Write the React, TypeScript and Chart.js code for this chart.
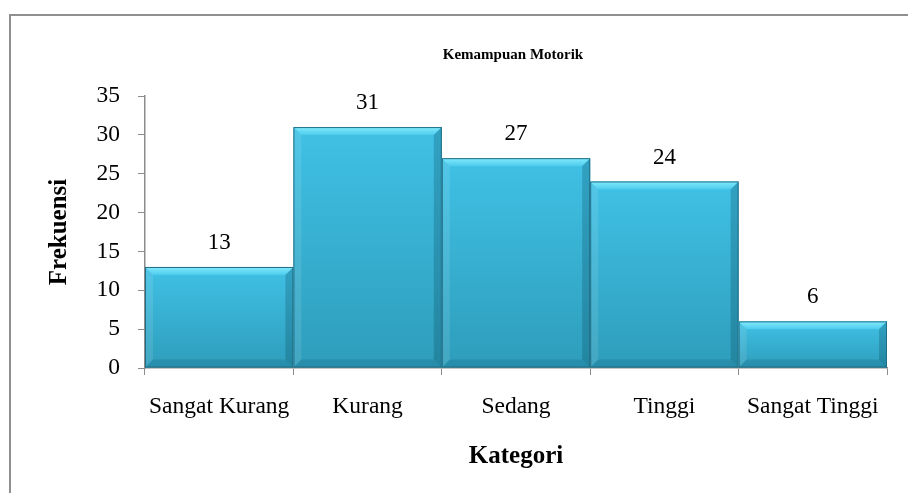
import React, { useEffect, useRef } from "react";
import { Chart, registerables } from "chart.js";

Chart.register(...registerables);

const categories = ["Sangat Kurang", "Kurang", "Sedang", "Tinggi", "Sangat Tinggi"];
const frequencies = [13, 31, 27, 24, 6];
const chartTitle = "Kemampuan Motorik";
const yAxisTitle = "Frekuensi";
const xAxisTitle = "Kategori";
const yMin = 0;
const yMax = 35;
const yStep = 5;

const SERIF = "'Liberation Serif', 'Times New Roman', Times, serif";

const bevelBarsPlugin = {
  id: "bevelBars",
  afterDatasetsDraw(chart: any) {
    const ctx = chart.ctx as CanvasRenderingContext2D;
    const meta = chart.getDatasetMeta(0);
    const data = chart.data.datasets[0].data as number[];
    meta.data.forEach((el: any, i: number) => {
      const { x, y, base, width } = el.getProps(["x", "y", "base", "width"], true);
      const l = x - width / 2;
      const r = x + width / 2;
      const t = Math.min(y, base);
      const bot = Math.max(y, base);
      const h = bot - t;
      const b = Math.min(8, h / 3);
      ctx.save();
      const g = ctx.createLinearGradient(0, t, 0, bot);
      g.addColorStop(0, "#40c1e5");
      g.addColorStop(1, "#2e9dbb");
      ctx.fillStyle = g;
      ctx.fillRect(l, t, width, h);
      const gt = ctx.createLinearGradient(0, t, 0, t + b);
      gt.addColorStop(0, "#84ebfd");
      gt.addColorStop(1, "#4ccbec");
      ctx.fillStyle = gt;
      ctx.beginPath();
      ctx.moveTo(l, t);
      ctx.lineTo(r, t);
      ctx.lineTo(r - b, t + b);
      ctx.lineTo(l + b, t + b);
      ctx.closePath();
      ctx.fill();
      ctx.fillStyle = "rgba(255,255,255,0.10)";
      ctx.beginPath();
      ctx.moveTo(l, t);
      ctx.lineTo(l + b, t + b);
      ctx.lineTo(l + b, bot - b);
      ctx.lineTo(l, bot);
      ctx.closePath();
      ctx.fill();
      ctx.fillStyle = "rgba(0,50,70,0.22)";
      ctx.beginPath();
      ctx.moveTo(r, t);
      ctx.lineTo(r - b, t + b);
      ctx.lineTo(r - b, bot - b);
      ctx.lineTo(r, bot);
      ctx.closePath();
      ctx.fill();
      ctx.fillStyle = "rgba(0,50,70,0.14)";
      ctx.beginPath();
      ctx.moveTo(l, bot);
      ctx.lineTo(l + b, bot - b);
      ctx.lineTo(r - b, bot - b);
      ctx.lineTo(r, bot);
      ctx.closePath();
      ctx.fill();
      ctx.strokeStyle = "#1f6e86";
      ctx.lineWidth = 1;
      ctx.strokeRect(l + 0.5, t + 0.5, width - 1, h - 1);
      ctx.fillStyle = "#000";
      ctx.font = `23px ${SERIF}`;
      ctx.textAlign = "center";
      ctx.textBaseline = "middle";
      ctx.fillText(String(data[i]), x, t - 24);
      ctx.restore();
    });
    const ca = chart.chartArea;
    ctx.save();
    ctx.fillStyle = "#000";
    ctx.font = `bold 15px ${SERIF}`;
    ctx.textAlign = "center";
    ctx.textBaseline = "middle";
    ctx.fillText(chartTitle, (ca.left + ca.right) / 2 - 3, 55);
    ctx.restore();
  },
};

export default function App() {
  const canvasRef = useRef<HTMLCanvasElement | null>(null);

  useEffect(() => {
    if (!canvasRef.current) return;
    const chart = new Chart(canvasRef.current, {
      type: "bar",
      data: {
        labels: categories,
        datasets: [
          {
            data: frequencies,
            backgroundColor: "rgba(0,0,0,0)",
            borderWidth: 0,
            barPercentage: 1,
            categoryPercentage: 1,
          },
        ],
      },
      options: {
        animation: false,
        responsive: false,
        devicePixelRatio: 1,
        layout: { padding: { left: 0, top: 96, right: 21, bottom: 0 } },
        plugins: {
          legend: { display: false },
          tooltip: { enabled: false },
          title: { display: false },
        },
        scales: {
          x: {
            z: 1,
            grid: {
              offset: true,
              drawOnChartArea: false,
              drawTicks: true,
              tickLength: 7,
              color: "#8c8c8c",
            },
            border: { display: true, color: "#8c8c8c", width: 1.5 },
            ticks: {
              color: "#000",
              font: { family: SERIF, size: 23.5 },
              padding: 18,
              maxRotation: 0,
              autoSkip: false,
            },
            title: {
              display: true,
              text: xAxisTitle,
              color: "#000",
              font: { family: SERIF, size: 25, weight: "bold" },
              padding: { top: 0, bottom: 21 },
            },
            afterFit(scale: any) {
              scale.height = 125;
            },
          },
          y: {
            min: yMin,
            max: yMax,
            grid: {
              drawOnChartArea: false,
              drawTicks: true,
              tickLength: 7,
              color: "#8c8c8c",
            },
            border: { display: true, color: "#8c8c8c", width: 1.5 },
            ticks: {
              stepSize: yStep,
              color: "#000",
              font: { family: SERIF, size: 23.5 },
              padding: 18,
            },
            title: {
              display: true,
              text: yAxisTitle,
              color: "#000",
              font: { family: SERIF, size: 25, weight: "bold" },
              padding: { top: 45, bottom: 0 },
            },
            afterFit(scale: any) {
              scale.width = 145;
            },
          },
        },
      },
      plugins: [bevelBarsPlugin],
    } as any);
    return () => chart.destroy();
  }, []);

  return (
    <div
      style={{
        position: "fixed",
        left: 0,
        top: 0,
        width: 908,
        height: 493,
        overflow: "hidden",
        background: "#fff",
      }}
    >
      <div
        style={{
          position: "absolute",
          left: 9,
          top: 14,
          width: 940,
          height: 520,
          border: "2px solid #8f8f8f",
          boxSizing: "border-box",
        }}
      />
      <canvas
        ref={canvasRef}
        width={908}
        height={493}
        style={{ position: "absolute", left: 0, top: 0, display: "block" }}
      />
    </div>
  );
}
